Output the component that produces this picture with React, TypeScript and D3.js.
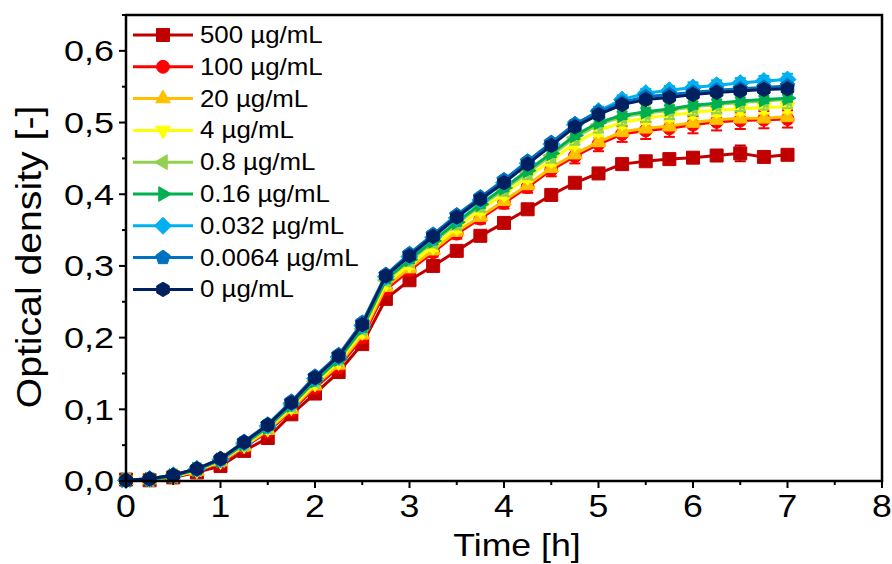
import React from 'react';
import * as d3 from 'd3';

const times = [0, 0.25, 0.5, 0.75, 1, 1.25, 1.5, 1.75, 2, 2.25, 2.5, 2.75, 3, 3.25, 3.5, 3.75, 4, 4.25, 4.5, 4.75, 5, 5.25, 5.5, 5.75, 6, 6.25, 6.5, 6.75, 7];

const od500 = [0.002, 0.001, 0.005, 0.012, 0.021, 0.042, 0.060, 0.093, 0.122, 0.152, 0.191, 0.254, 0.280, 0.300, 0.321, 0.342, 0.360, 0.379, 0.399, 0.416, 0.429, 0.442, 0.446, 0.449, 0.451, 0.454, 0.457, 0.452, 0.455];
const od100 = [0.001, 0.002, 0.006, 0.014, 0.026, 0.047, 0.069, 0.098, 0.130, 0.159, 0.200, 0.267, 0.294, 0.319, 0.345, 0.366, 0.388, 0.410, 0.434, 0.453, 0.470, 0.484, 0.489, 0.492, 0.497, 0.501, 0.503, 0.504, 0.505];
const od20 = [0.001, 0.002, 0.006, 0.014, 0.027, 0.048, 0.071, 0.100, 0.133, 0.162, 0.204, 0.271, 0.297, 0.322, 0.348, 0.369, 0.391, 0.413, 0.437, 0.456, 0.473, 0.487, 0.492, 0.495, 0.500, 0.504, 0.506, 0.506, 0.508];
const od4 = [0.001, 0.002, 0.006, 0.015, 0.028, 0.050, 0.073, 0.103, 0.136, 0.166, 0.208, 0.276, 0.302, 0.327, 0.353, 0.378, 0.400, 0.424, 0.447, 0.471, 0.489, 0.500, 0.506, 0.510, 0.514, 0.517, 0.519, 0.521, 0.522];
const od08 = [0.001, 0.002, 0.007, 0.016, 0.029, 0.051, 0.075, 0.105, 0.139, 0.169, 0.212, 0.280, 0.307, 0.333, 0.359, 0.384, 0.406, 0.430, 0.454, 0.479, 0.497, 0.508, 0.513, 0.517, 0.522, 0.525, 0.528, 0.530, 0.532];
const od016 = [0.001, 0.002, 0.007, 0.016, 0.029, 0.052, 0.075, 0.106, 0.140, 0.170, 0.213, 0.281, 0.309, 0.335, 0.361, 0.386, 0.409, 0.433, 0.457, 0.482, 0.500, 0.510, 0.515, 0.519, 0.524, 0.527, 0.530, 0.532, 0.534];
const od0032 = [0.001, 0.003, 0.008, 0.017, 0.030, 0.053, 0.077, 0.108, 0.143, 0.173, 0.217, 0.285, 0.313, 0.340, 0.367, 0.392, 0.416, 0.443, 0.470, 0.497, 0.516, 0.532, 0.541, 0.545, 0.549, 0.552, 0.555, 0.558, 0.560];
const od00064 = [0.001, 0.003, 0.008, 0.017, 0.031, 0.055, 0.079, 0.111, 0.146, 0.176, 0.221, 0.288, 0.317, 0.344, 0.371, 0.396, 0.420, 0.446, 0.472, 0.498, 0.515, 0.528, 0.536, 0.539, 0.542, 0.545, 0.547, 0.549, 0.551];
const od0 = [0.001, 0.003, 0.008, 0.017, 0.031, 0.054, 0.078, 0.109, 0.144, 0.174, 0.218, 0.286, 0.314, 0.341, 0.368, 0.393, 0.416, 0.442, 0.468, 0.494, 0.511, 0.525, 0.532, 0.535, 0.539, 0.542, 0.544, 0.546, 0.547];

const err500 = [0.001, 0.001, 0.001, 0.002, 0.002, 0.002, 0.003, 0.003, 0.003, 0.003, 0.004, 0.004, 0.003, 0.003, 0.003, 0.003, 0.003, 0.003, 0.003, 0.003, 0.003, 0.003, 0.003, 0.003, 0.003, 0.004, 0.011, 0.004, 0.004];
const err100 = [0.001, 0.001, 0.002, 0.002, 0.003, 0.003, 0.004, 0.004, 0.005, 0.005, 0.006, 0.006, 0.006, 0.006, 0.007, 0.007, 0.008, 0.008, 0.009, 0.010, 0.010, 0.011, 0.012, 0.012, 0.012, 0.012, 0.012, 0.012, 0.012];
const err20 = [0.001, 0.001, 0.002, 0.002, 0.003, 0.003, 0.004, 0.004, 0.005, 0.005, 0.005, 0.006, 0.006, 0.006, 0.006, 0.006, 0.006, 0.006, 0.006, 0.006, 0.006, 0.006, 0.006, 0.006, 0.006, 0.006, 0.006, 0.006, 0.006];
const err4 = [0.001, 0.001, 0.002, 0.002, 0.003, 0.003, 0.004, 0.004, 0.005, 0.005, 0.005, 0.006, 0.006, 0.006, 0.006, 0.006, 0.006, 0.007, 0.007, 0.007, 0.008, 0.008, 0.008, 0.008, 0.008, 0.008, 0.008, 0.008, 0.008];
const err08 = [0.001, 0.001, 0.002, 0.002, 0.003, 0.004, 0.004, 0.005, 0.005, 0.006, 0.006, 0.007, 0.007, 0.007, 0.008, 0.008, 0.008, 0.009, 0.010, 0.010, 0.011, 0.012, 0.012, 0.012, 0.012, 0.012, 0.012, 0.012, 0.012];
const err016 = [0.001, 0.001, 0.002, 0.002, 0.003, 0.003, 0.004, 0.004, 0.005, 0.005, 0.005, 0.005, 0.005, 0.005, 0.005, 0.005, 0.005, 0.005, 0.005, 0.005, 0.005, 0.005, 0.005, 0.005, 0.005, 0.005, 0.005, 0.005, 0.005];
const err0032 = [0.001, 0.001, 0.002, 0.002, 0.003, 0.003, 0.004, 0.004, 0.005, 0.005, 0.005, 0.005, 0.005, 0.005, 0.005, 0.005, 0.005, 0.005, 0.005, 0.006, 0.006, 0.006, 0.006, 0.006, 0.007, 0.007, 0.007, 0.007, 0.008];
const err00064 = [0.001, 0.001, 0.002, 0.002, 0.003, 0.003, 0.004, 0.004, 0.004, 0.004, 0.004, 0.004, 0.004, 0.004, 0.004, 0.004, 0.004, 0.004, 0.004, 0.004, 0.004, 0.004, 0.004, 0.004, 0.004, 0.004, 0.004, 0.004, 0.004];
const err0 = [0.001, 0.001, 0.002, 0.002, 0.003, 0.003, 0.004, 0.004, 0.004, 0.004, 0.004, 0.004, 0.004, 0.004, 0.004, 0.004, 0.004, 0.004, 0.004, 0.004, 0.004, 0.004, 0.004, 0.004, 0.004, 0.004, 0.004, 0.004, 0.004];

const seriesLabels = ['500 µg/mL', '100 µg/mL', '20 µg/mL', '4 µg/mL', '0.8 µg/mL', '0.16 µg/mL', '0.032 µg/mL', '0.0064 µg/mL', '0 µg/mL'];
const seriesValues = [od500, od100, od20, od4, od08, od016, od0032, od00064, od0];
const seriesErrors = [err500, err100, err20, err4, err08, err016, err0032, err00064, err0];

const yTicks = [0, 0.1, 0.2, 0.3, 0.4, 0.5, 0.6];
const xTicks = [0, 1, 2, 3, 4, 5, 6, 7, 8];

const colors = ['#C00000', '#FF0000', '#FFC000', '#FFFF00', '#92D050', '#00B050', '#00B0F0', '#0070C0', '#002060'];
const shapes = ['square', 'circle', 'up', 'down', 'left', 'right', 'diamond', 'pentagon', 'hexagon'];

const W = 892;
const H = 564;
const X0 = 126, X1 = 882, Y0 = 481, Y1 = 15;
const x = d3.scaleLinear().domain([0, 8]).range([X0, X1]);
const y = d3.scaleLinear().domain([0, 0.65]).range([Y0, Y1]);

function polygon(n: number, r: number, rot: number): string {
  const pts = d3.range(n).map((i) => {
    const a = rot + (i * 2 * Math.PI) / n;
    return [r * Math.sin(a), -r * Math.cos(a)] as [number, number];
  });
  return (d3.line()(pts) || '') + 'Z';
}

function markerPath(shape: string): string {
  switch (shape) {
    case 'square': return polygon(4, 6.5 * Math.SQRT2, Math.PI / 4);
    case 'circle': return d3.symbol(d3.symbolCircle, 130)() || '';
    case 'up': return polygon(3, 8.5, 0);
    case 'down': return polygon(3, 8.5, Math.PI);
    case 'left': return polygon(3, 8.5, -Math.PI / 2);
    case 'right': return polygon(3, 8.5, Math.PI / 2);
    case 'diamond': return polygon(4, 8.5, 0);
    case 'pentagon': return polygon(5, 7.5, 0);
    case 'hexagon': return polygon(6, 7.2, 0);
    default: return '';
  }
}

const fmt = (v: number) => d3.format('.1f')(v).replace('.', ',');

export default function App() {
  const line = d3.line<number>().x((_, i) => x(times[i])).y((d) => y(d));
  const yMinor = d3.range(0, 0.651, 0.05);
  const xMinor = d3.range(0, 8.01, 0.5);
  const font = 'Arial, "Liberation Sans", sans-serif';
  return (
    <svg width={W} height={H} style={{ position: 'absolute', left: 0, top: 0, background: '#fff' }} fontFamily={font}>
      <rect x={0} y={0} width={W} height={H} fill="#fff" />
      {seriesValues.map((vals, si) => {
        const c = colors[si];
        const p = markerPath(shapes[si]);
        return (
          <g key={si}>
            <path d={line(vals) || ''} fill="none" stroke={c} strokeWidth={3} strokeLinejoin="round" />
            {vals.map((v, i) => {
              const e = seriesErrors[si][i];
              const cx = x(times[i]);
              return (
                <g key={i} stroke={c} strokeWidth={2}>
                  <line x1={cx} x2={cx} y1={y(v - e)} y2={y(v + e)} />
                  <line x1={cx - 5.5} x2={cx + 5.5} y1={y(v - e)} y2={y(v - e)} />
                  <line x1={cx - 5.5} x2={cx + 5.5} y1={y(v + e)} y2={y(v + e)} />
                </g>
              );
            })}
            {vals.map((v, i) => (
              <path key={'m' + i} d={p} transform={`translate(${x(times[i])},${y(v)})`} fill={c} stroke={c} strokeWidth={1} />
            ))}
          </g>
        );
      })}
      <rect x={X0} y={Y1} width={X1 - X0} height={Y0 - Y1} fill="none" stroke="#000" strokeWidth={2.5} />
      {yMinor.map((t, i) => (
        <line key={'ym' + i} x1={X0} x2={X0 - (i % 2 === 0 ? 7 : 4)} y1={y(t)} y2={y(t)} stroke="#000" strokeWidth={2} />
      ))}
      {yTicks.map((t) => (
        <text key={'yt' + t} transform={`translate(114,${y(t)}) scale(1.2,1)`} textAnchor="end" dominantBaseline="central" fontSize={30}>
          {fmt(t)}
        </text>
      ))}
      {xMinor.map((t, i) => (
        <line key={'xm' + i} x1={x(t)} x2={x(t)} y1={Y0} y2={Y0 + (i % 2 === 0 ? 7 : 4)} stroke="#000" strokeWidth={2} />
      ))}
      {xTicks.map((t) => (
        <text key={'xt' + t} transform={`translate(${x(t)},517) scale(1.15,1)`} textAnchor="middle" fontSize={31}>
          {t}
        </text>
      ))}
      <text transform="translate(517,556) scale(1.15,1)" textAnchor="middle" fontSize={31}>Time [h]</text>
      <text transform="translate(41,257) rotate(-90) scale(1.12,1)" textAnchor="middle" fontSize={35}>Optical density [-]</text>
      {seriesLabels.map((lab, i) => {
        const ly = 35 + i * 31.8;
        return (
          <g key={'lg' + i}>
            <line x1={133} x2={193} y1={ly} y2={ly} stroke={colors[i]} strokeWidth={3} />
            <path d={markerPath(shapes[i])} transform={`translate(163,${ly})`} fill={colors[i]} stroke={colors[i]} />
            <text transform={`translate(200,${ly}) scale(1.1,1)`} dominantBaseline="central" fontSize={23.5}>{lab}</text>
          </g>
        );
      })}
    </svg>
  );
}
